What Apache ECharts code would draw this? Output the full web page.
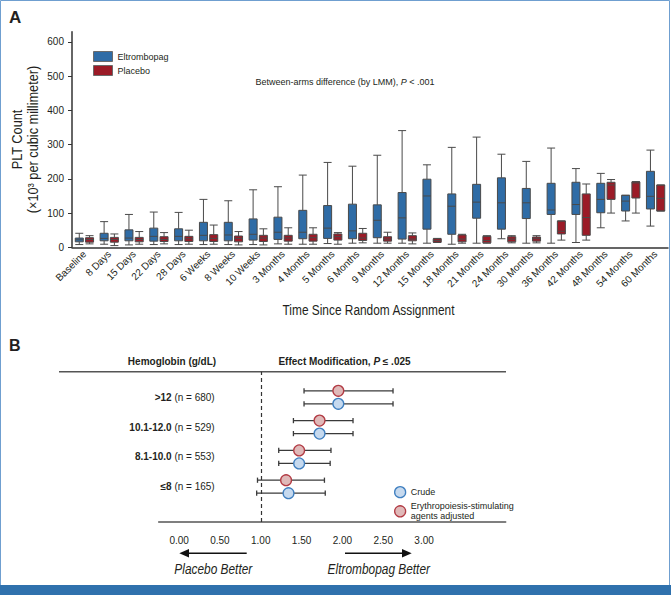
<!DOCTYPE html>
<html><head><meta charset="utf-8">
<script src="https://cdn.jsdelivr.net/npm/echarts@6/dist/echarts.min.js"></script>
<style>html,body{margin:0;padding:0;background:#fff}#chart{width:671px;height:595px}</style>
</head><body><div id="chart"></div>
<script>
// ---------- Panel A data ----------
const categories = ['Baseline','8 Days','15 Days','22 Days','28 Days','6 Weeks','8 Weeks','10 Weeks',
  '3 Months','4 Months','5 Months','6 Months','9 Months','12 Months','15 Months','18 Months',
  '21 Months','24 Months','30 Months','36 Months','42 Months','48 Months','54 Months','60 Months'];
// [min, Q1, median, Q3, max]
const eltrombopagBox = [
  [8,16,22,27,41],[9,19,26,41,75],[7,19,27,51,96],[8,18,32,56,103],[8,19,32,54,102],
  [8,19,35,73,140],[8,19,36,73,136],[8,21,38,83,168],[10,23,44,88,177],[9,25,44,108,211],
  [11,26,56,122,248],[12,25,48,126,237],[12,28,79,124,269],[12,24,86,160,341],[12,53,150,199,241],
  [9,38,120,156,292],[12,85,132,184,322],[25,53,130,203,272],[12,84,130,172,251],[12,96,109,187,290],
  [14,96,125,190,230],[57,101,140,187,216],[77,106,135,152,152],[62,112,149,222,284]
];
const placeboBox = [
  [10,15,23,28,34],[5,15,23,29,39],[9,16,23,29,46],[10,17,23,31,43],[9,17,25,32,50],
  [9,17,26,37,65],[7,16,26,33,46],[7,17,27,35,54],[9,18,27,35,57],[9,18,28,38,57],
  [9,21,31,39,43],[13,20,27,41,55],[12,18,24,31,44],[10,19,24,34,42],[14,15,20,25,26],
  [12,16,24,36,38],[12,13,20,32,34],[13,16,24,31,34],[13,18,25,30,34],[21,39,47,77,77],
  [21,35,87,156,185],[100,140,182,190,198],[100,144,188,191,192],[106,106,143,182,182]
];
const yTicks = [0,100,200,300,400,500,600];

// ---------- Panel B data ----------
const hbGroups = ['>12','10.1-12.0','8.1-10.0','≤8'];
const hbN = [680,529,553,165];
const crudeEst  = [1.95,1.72,1.47,1.34];
const crudeLow  = [1.53,1.40,1.22,0.95];
const crudeHigh = [2.62,2.13,1.85,1.79];
const esaEst  = [1.95,1.72,1.47,1.31];
const esaLow  = [1.53,1.40,1.22,0.96];
const esaHigh = [2.62,2.13,1.86,1.78];
const orTicks = [0,0.5,1,1.5,2,2.5,3];
const nullEffect = 1;

const FONT = '"Liberation Sans", Arial, sans-serif';
const TXT = '#231f20';
const BLUE = '#2f6ca6', RED = '#9b1b27';

const crudeData = hbGroups.map((g,i)=>[i, crudeEst[i], crudeLow[i], crudeHigh[i]]);
const esaData = hbGroups.map((g,i)=>[i, esaEst[i], esaLow[i], esaHigh[i]]);
const esaName = 'Erythropoiesis-stimulating\nagents adjusted';

function forestRender(dy, fill, stroke) {
  return function (params, api) {
    const row = api.value(0);
    const c = api.coord([api.value(1), row]);
    const l = api.coord([api.value(2), row]);
    const h = api.coord([api.value(3), row]);
    const y = c[1] + dy;
    const cap = 2.6;
    const ls = {stroke:'#3a3a3a', lineWidth:1.3};
    return {type:'group', children:[
      {type:'line', shape:{x1:l[0],y1:y,x2:h[0],y2:y}, style:ls},
      {type:'line', shape:{x1:l[0],y1:y-cap,x2:l[0],y2:y+cap}, style:ls},
      {type:'line', shape:{x1:h[0],y1:y-cap,x2:h[0],y2:y+cap}, style:ls},
      {type:'circle', shape:{cx:c[0],cy:y,r:5.4}, style:{fill:fill, stroke:stroke, lineWidth:1.3}}
    ]};
  };
}

const chart = echarts.init(document.getElementById('chart'), null, {renderer:'svg'});
const option = {
  animation:false,
  backgroundColor:'#fff',
  textStyle:{fontFamily:FONT, color:TXT},
  legend:[
    {data:[
      {name:'Eltrombopag', itemStyle:{color:BLUE, borderColor:'#6b6b6b', borderWidth:1}},
      {name:'Placebo', itemStyle:{color:RED, borderColor:'#6b6b6b', borderWidth:1}}
     ], orient:'vertical', left:88, top:46, icon:'rect',
     itemWidth:19, itemHeight:10, itemGap:3,
     textStyle:{fontSize:9, color:TXT, lineHeight:10, fontFamily:FONT}},
    {data:[
      {name:'Crude', icon:'circle', itemStyle:{color:'#c6d9ee', borderColor:'#3f7fc0', borderWidth:1.3}},
      {name:esaName, icon:'circle', itemStyle:{color:'#dfb9b9', borderColor:'#b23b44', borderWidth:1.3}}
     ], orient:'vertical', left:389, top:481, itemWidth:11, itemHeight:11, itemGap:3,
     textStyle:{fontSize:9, color:TXT, lineHeight:10, fontFamily:FONT}}
  ],
  grid:[
    {left:72, right:3, top:31.7, bottom:347.7},
    {left:158.7, right:165.3, top:371.7, height:150.3},
    {left:158.7, right:165.3, top:382.4, height:119.2}
  ],
  xAxis:[
    {type:'category', gridIndex:0, data:categories, boundaryGap:true,
     axisLine:{lineStyle:{color:'#333', width:1.5}},
     axisTick:{alignWithLabel:true, length:3, lineStyle:{color:'#333'}},
     axisLabel:{rotate:45, fontSize:10, interval:0, margin:5, color:TXT}},
    {type:'value', gridIndex:1, min:-0.25, max:4, offset:4.7,
     axisLine:{show:true, lineStyle:{color:'#555', width:1.5}},
     axisTick:{show:false}, splitLine:{show:false},
     axisLabel:{customValues:orTicks, formatter:v=>v.toFixed(2), fontSize:10, margin:9, color:TXT}},
    {type:'value', gridIndex:2, min:-0.25, max:4, show:false}
  ],
  yAxis:[
    {type:'value', gridIndex:0, min:0, max:630,
     axisLine:{show:true, lineStyle:{color:'#333', width:1.5}},
     axisTick:{show:true, customValues:yTicks, length:4, lineStyle:{color:'#333'}},
     axisLabel:{customValues:yTicks, fontSize:10, margin:8, color:TXT},
     splitLine:{show:false}},
    {type:'value', gridIndex:1, min:0, max:1, show:false},
    {type:'category', gridIndex:2, data:hbGroups, inverse:true,
     axisLine:{show:false}, axisTick:{show:false},
     axisLabel:{margin:-56, fontSize:10, color:TXT,
       formatter:(v, i)=>'{b|'+v+'} {n|(n = '+hbN[i]+')}',
       rich:{b:{fontWeight:'bold', fontSize:10, color:TXT}, n:{fontSize:10, color:TXT}}}}
  ],
  series:[
    {type:'boxplot', name:'Eltrombopag', xAxisIndex:0, yAxisIndex:0, data:eltrombopagBox,
     boxWidth:[8,8], itemStyle:{color:BLUE, borderColor:'#4a4a4a', borderWidth:1}},
    {type:'boxplot', name:'Placebo', xAxisIndex:0, yAxisIndex:0, data:placeboBox,
     boxWidth:[8,8], itemStyle:{color:RED, borderColor:'#4a4a4a', borderWidth:1}},
    {type:'line', xAxisIndex:1, yAxisIndex:1, data:[], silent:true,
     markLine:{symbol:'none', silent:true, label:{show:false},
       lineStyle:{type:[4,3], color:'#333', width:1.2}, data:[{xAxis:nullEffect}]}},
    {type:'custom', name:esaName, xAxisIndex:2, yAxisIndex:2, data:esaData,
     encode:{x:[1,2,3], y:0}, itemStyle:{color:'#dfb9b9'},
     renderItem:forestRender(-6.5, '#dfb9b9', '#b23b44')},
    {type:'custom', name:'Crude', xAxisIndex:2, yAxisIndex:2, data:crudeData,
     encode:{x:[1,2,3], y:0}, itemStyle:{color:'#c6d9ee'},
     renderItem:forestRender(6.5, '#c6d9ee', '#3f7fc0')}
  ],
  graphic:[
    {type:'rect', shape:{x:0.5,y:0.5,width:669,height:594}, style:{fill:'none', stroke:'#6f9fd0', lineWidth:1}, silent:true},
    {type:'rect', shape:{x:0,y:585,width:671,height:10}, style:{fill:'#2f71ad'}, silent:true},
    {type:'text', left:9, top:9, style:{text:'A', font:'bold 17px '+FONT, fill:TXT}},
    {type:'text', left:9, top:337, style:{text:'B', font:'bold 16px '+FONT, fill:TXT}},
    // axis titles (condensed look)
    {type:'text', x:25, y:139.5, rotation:Math.PI/2, scaleX:0.85,
     style:{text:'PLT Count\n(×10³ per cubic millimeter)', font:'15px '+FONT, lineHeight:16,
            fill:TXT, align:'center', verticalAlign:'middle'}},
    {type:'text', x:368.5, y:310.5, scaleX:0.82,
     style:{text:'Time Since Random Assignment', font:'14.5px '+FONT, fill:TXT, align:'center', verticalAlign:'middle'}},
    {type:'text', x:345, y:81.7, style:{text:'{n|Between-arms difference (by LMM), }{i|P}{n| < .001}',
      align:'center', verticalAlign:'middle',
      rich:{n:{fontSize:9, fontFamily:FONT, fill:TXT}, i:{fontSize:9, fontStyle:'italic', fontFamily:FONT, fill:TXT}}}},
    {type:'text', x:172, y:361.7, style:{text:'Hemoglobin (g/dL)', font:'bold 10px '+FONT, fill:TXT, align:'center', verticalAlign:'middle'}},
    {type:'text', x:344.5, y:361.7, style:{text:'{b|Effect Modification, }{i|P}{b| ≤ .025}',
      align:'center', verticalAlign:'middle',
      rich:{b:{fontSize:10, fontWeight:'bold', fontFamily:FONT, fill:TXT},
            i:{fontSize:10, fontWeight:'bold', fontStyle:'italic', fontFamily:FONT, fill:TXT}}}},
    {type:'line', shape:{x1:59,y1:371.7,x2:506,y2:371.7}, style:{stroke:'#555', lineWidth:1.5}, silent:true},
    {type:'line', shape:{x1:246.7,y1:553.3,x2:186,y2:553.3}, style:{stroke:'#111', lineWidth:1.5}, silent:true},
    {type:'polygon', shape:{points:[[179.3,553.3],[189,549],[189,557.6]]}, style:{fill:'#111'}, silent:true},
    {type:'line', shape:{x1:345,y1:553.3,x2:405,y2:553.3}, style:{stroke:'#111', lineWidth:1.5}, silent:true},
    {type:'polygon', shape:{points:[[411.7,553.3],[402,549],[402,557.6]]}, style:{fill:'#111'}, silent:true},
    {type:'text', x:213.3, y:569, scaleX:0.82, style:{text:'Placebo Better', font:'italic 14.5px '+FONT, fill:TXT, align:'center', verticalAlign:'middle'}},
    {type:'text', x:378.8, y:569, scaleX:0.82, style:{text:'Eltrombopag Better', font:'italic 14.5px '+FONT, fill:TXT, align:'center', verticalAlign:'middle'}}
  ]
};
chart.setOption(option);
</script></body></html>
